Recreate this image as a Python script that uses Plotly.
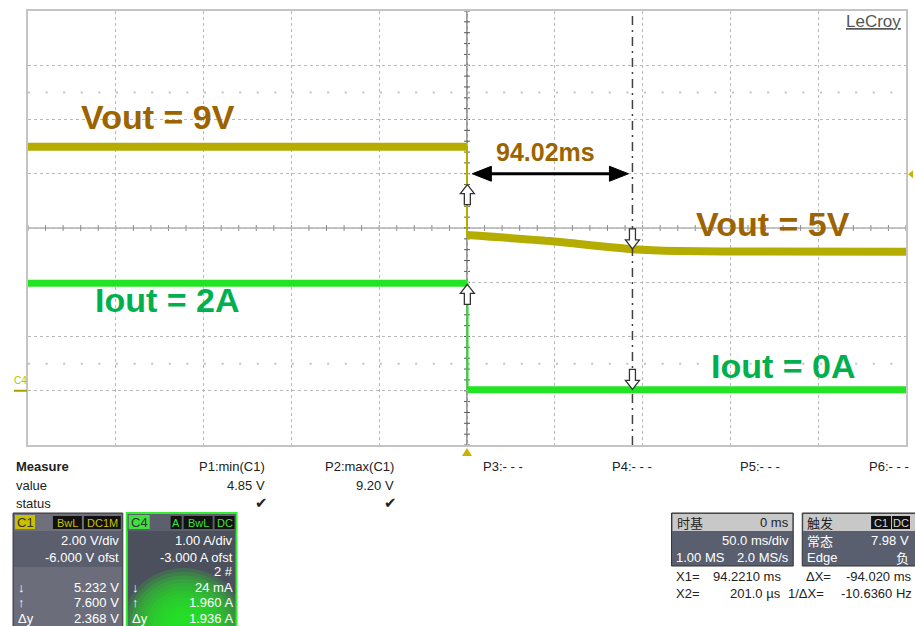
import plotly.graph_objects as go

# ---------------- waveform data ----------------
# time axis in ms (50 ms/div, trigger at 0)
t_pre = [-250, 0]
vout_pre = [9.0, 9.0]                       # C1, volts
t_post = [0, 47, 94.2, 120, 170, 250]
vout_post = [5.74, 5.52, 5.22, 5.15, 5.13, 5.12]

iout_pre = [1.98, 1.98]                     # C4, amps
t_iout_post = [0.3, 250]
iout_post = [0.02, 0.02]

# cursor positions (ms) and the levels read at them
cursor_x1 = 94.221
cursor_x2 = 0.201
c1_at_x1, c1_at_x2 = 5.232, 7.600
c4_at_x1, c4_at_x2 = 0.024, 1.960
trig_level = 7.98

# channel settings: volts/amps per div and offset
c1_div, c1_ofst = 2.0, -6.0
c4_div, c4_ofst = 1.0, -3.0

# measurement table
meas_heads = ["P1:min(C1)", "P2:max(C1)", "P3:- - -", "P4:- - -", "P5:- - -", "P6:- - -"]
meas_vals = ["4.85 V", "9.20 V", "", "", "", ""]
meas_ok = [True, True, False, False, False, False]

# ---------------- layout helpers ----------------
W, H = 915, 626
L, R, T, B = 28, 908, 11, 445


def px(x):
    return (x - L) / (R - L)


def py(y):
    return (B - y) / (B - T)


OLIVE = "#b4ad00"
GREEN = "#22e422"
BROWN = "#9c6400"
LBL_GREEN = "#00b04e"
FONT = "Liberation Sans, Arial, sans-serif"
CJK = "Noto Sans CJK SC, sans-serif"

c1_lo, c1_hi = -c1_ofst - 4 * c1_div, -c1_ofst + 4 * c1_div
c4_lo, c4_hi = -c4_ofst - 4 * c4_div, -c4_ofst + 4 * c4_div

fig = go.Figure()

# C1 (Vout)
fig.add_trace(go.Scatter(x=t_pre, y=vout_pre, mode="lines",
                         line=dict(color=OLIVE, width=8), yaxis="y"))
fig.add_trace(go.Scatter(x=[t_pre[-1], t_post[0]], y=[vout_pre[-1], vout_post[0]],
                         mode="lines", line=dict(color=OLIVE, width=2), yaxis="y"))
fig.add_trace(go.Scatter(x=t_post, y=vout_post, mode="lines",
                         line=dict(color=OLIVE, width=8, shape="spline", smoothing=0.6),
                         yaxis="y"))
# C4 (Iout)
fig.add_trace(go.Scatter(x=t_pre, y=iout_pre, mode="lines",
                         line=dict(color=GREEN, width=7), yaxis="y2"))
fig.add_trace(go.Scatter(x=[t_iout_post[0], t_iout_post[0]], y=[iout_pre[-1], iout_post[0]],
                         mode="lines", line=dict(color=GREEN, width=2), yaxis="y2"))
fig.add_trace(go.Scatter(x=t_iout_post, y=iout_post, mode="lines",
                         line=dict(color=GREEN, width=7), yaxis="y2"))

shapes = []
ann = []

# center cross of the graticule with minor ticks
shapes.append(dict(type="line", xref="x", yref="y", x0=-250, x1=250, y0=-c1_ofst, y1=-c1_ofst,
                   line=dict(color="#8a8a8a", width=1), layer="below"))
shapes.append(dict(type="line", xref="x", yref="y", x0=0, x1=0, y0=c1_lo, y1=c1_hi,
                   line=dict(color="#5a5a5a", width=1.2), layer="below"))
for k in range(-25, 26):
    shapes.append(dict(type="line", xref="x", yref="y", x0=k * 10, x1=k * 10,
                       ysizemode="pixel", yanchor=-c1_ofst, y0=-3, y1=3,
                       line=dict(color="#8a8a8a", width=1), layer="below"))
for k in range(0, 41):
    v = c1_lo + k * c1_div / 5
    shapes.append(dict(type="line", xref="x", yref="y", y0=v, y1=v,
                       xsizemode="pixel", xanchor=0, x0=-3, x1=3,
                       line=dict(color="#5a5a5a", width=1), layer="below"))
# faint dotted rows
for v in (11, 1):
    shapes.append(dict(type="line", xref="x", yref="y", x0=-250, x1=250, y0=v, y1=v,
                       line=dict(color="#c4c4c4", width=2, dash="2px,15.6px"), layer="below"))

# cursor X1
shapes.append(dict(type="line", xref="x", yref="y", x0=cursor_x1, x1=cursor_x1,
                   y0=c1_lo, y1=c1_hi, line=dict(color="#404040", width=1.5,
                                                   dash="9px,5px,2px,5px")))

# cursor hollow arrows
UP = "M0,0 L7,-9 L3,-9 L3,-20 L-3,-20 L-3,-9 L-7,-9 Z"
DOWN = "M0,0 L7,9 L3,9 L3,20 L-3,20 L-3,9 L-7,9 Z"
for (xc, yv, yr, p) in [(cursor_x2, c1_at_x2, "y", UP), (cursor_x2, c4_at_x2, "y2", UP),
                        (cursor_x1, c1_at_x1, "y", DOWN), (cursor_x1, c4_at_x1, "y2", DOWN)]:
    shapes.append(dict(type="path", xref="x", yref=yr, xsizemode="pixel", ysizemode="pixel",
                       xanchor=xc, yanchor=yv, path=p, fillcolor="white",
                       line=dict(color="#333333", width=1.3)))

# double arrow between the cursors
shapes.append(dict(type="line", xref="x", yref="y", x0=cursor_x2 + 10, x1=cursor_x1 - 10,
                   y0=8.0, y1=8.0, line=dict(color="black", width=3)))
shapes.append(dict(type="path", xref="x", yref="y", xsizemode="pixel", ysizemode="pixel",
                   xanchor=cursor_x2, yanchor=8.0, path="M5,0 L24,7.5 L24,-7.5 Z",
                   fillcolor="black", line=dict(color="black", width=1)))
shapes.append(dict(type="path", xref="x", yref="y", xsizemode="pixel", ysizemode="pixel",
                   xanchor=cursor_x1, yanchor=8.0, path="M-4,0 L-23,7.5 L-23,-7.5 Z",
                   fillcolor="black", line=dict(color="black", width=1)))

# trigger markers
shapes.append(dict(type="path", xref="x", yref="paper", xsizemode="pixel", ysizemode="pixel",
                   xanchor=0, yanchor=0, path="M0,-3 L5,-11 L-5,-11 Z",
                   fillcolor="#c8b400", line=dict(width=0)))
shapes.append(dict(type="path", xref="paper", yref="y", xsizemode="pixel", ysizemode="pixel",
                   xanchor=1, yanchor=trig_level, path="M2,0 L7,4 L7,-4 Z",
                   fillcolor="#c8b400", line=dict(width=0)))
# C4 ground marker
shapes.append(dict(type="path", xref="paper", yref="y2", xsizemode="pixel", ysizemode="pixel",
                   xanchor=0, yanchor=0, path="M-14,0 L-1,0", line=dict(color="#a8a000", width=2)))
ann.append(dict(x=px(20), y=0, xref="paper", yref="y2", yshift=10, text="C4", showarrow=False,
                xanchor="center", yanchor="middle",
                font=dict(size=10, color="#b0c400", family=FONT)))


def label(x, y, s, color, size=34):
    ann.append(dict(x=px(x), y=py(y), xref="paper", yref="paper", text=f"<b>{s}</b>",
                    showarrow=False, xanchor="center", yanchor="middle",
                    font=dict(size=size, color=color, family=FONT)))


# waveform labels
label(158, 117, "Vout = 9V", BROWN)
label(168, 300, "Iout = 2A", LBL_GREEN)
label(775, 224, "Vout = 5V", BROWN)
label(785, 366, "Iout = 0A", LBL_GREEN)
label(547, 152, "94.02ms", BROWN, size=25)
ann.append(dict(x=px(905), y=py(22), xref="paper", yref="paper", xanchor="right",
                yanchor="middle", text="<u>LeCroy</u>", showarrow=False,
                font=dict(color="#555555", size=17, family=FONT)))


def txt(x, y, s, size=13, color="#222222", anchor="left", family=FONT):
    ann.append(dict(x=px(x), y=py(y), xref="paper", yref="paper", text=s, showarrow=False,
                    xanchor=anchor, yanchor="middle", font=dict(size=size, color=color,
                                                                family=family)))


def rect(x0, y0, x1, y1, fill, line=None, lw=1):
    shapes.append(dict(type="rect", xref="paper", yref="paper", x0=px(x0), x1=px(x1),
                       y0=py(y1), y1=py(y0), fillcolor=fill,
                       line=dict(color=line or fill, width=lw if line else 0)))


def ellipse(cx, cy, rx, ry, fill, op):
    shapes.append(dict(type="circle", xref="paper", yref="paper", x0=px(cx - rx), x1=px(cx + rx),
                       y0=py(cy + ry), y1=py(cy - ry), fillcolor=fill, opacity=op,
                       line=dict(width=0)))


# measurement table
txt(14, 467, "<b>Measure</b>")
txt(14, 485, "value")
txt(14, 503, "status")
right_edges = [268, 397, 526, 655, 784, 913]
for head, val, ok, xr in zip(meas_heads, meas_vals, meas_ok, right_edges):
    txt(xr, 467, head, anchor="right")
    if val:
        txt(xr, 485, val, anchor="right")
    if ok:
        txt(xr - 6, 503, "✔", size=15, color="#222222", anchor="center",
            family="DejaVu Sans")

# C4 channel box with its green glow (drawn first, then trimmed to its frame)
rect(127, 513, 237, 630, "#4c505c")
for i in range(14):
    f = i / 13
    ellipse(184, 628, 62 - 50 * f, 60 - 48 * f, "#22ee22", 0.17)
rect(237.5, 560, 252, 630, "white")
rect(123.5, 560, 126.5, 630, "white")
shapes.append(dict(type="rect", xref="paper", yref="paper", x0=px(127), x1=px(237),
                   y0=py(630), y1=py(513), line=dict(color="#33ee33", width=2)))
rect(128, 514, 236, 531, "#5c606c")
rect(129, 515, 150, 529, "#3fe03f")
txt(139.5, 522, "C4", color="#333333", anchor="center")
rect(171, 516, 182, 529, "#111111")
txt(176.5, 522.5, "A", size=11, color="#3fe03f", anchor="center")
rect(184, 516, 213, 529, "#111111")
txt(198.5, 522.5, "BwL", size=11, color="#3fe03f", anchor="center")
rect(215, 516, 235, 529, "#111111")
txt(225, 522.5, "DC", size=11, color="#3fe03f", anchor="center")
txt(235, 540, "1.00 A/div", color="white", anchor="right")
txt(235, 557, "-3.000 A ofst", color="white", anchor="right")
txt(235, 571, "2 #", color="white", anchor="right")
txt(130, 587, "↓", color="white")
txt(130, 603, "↑", color="white")
txt(130, 618, "Δy", color="white")
txt(235, 587, f"{c4_at_x1 * 1000:.0f} mA", color="white", anchor="right")
txt(235, 603, f"{c4_at_x2:.3f} A", color="white", anchor="right")
txt(235, 618, f"{c4_at_x2 - c4_at_x1:.3f} A", color="white", anchor="right")

# C1 channel box
rect(13, 513, 123, 630, "#5a5e6d", "#3a3a3a", 1)
rect(14, 514, 122, 531, "#6e717c")
rect(14, 567, 122, 630, "#6b6e7a")
rect(15, 515, 35, 529, "#c8c000")
txt(25, 522, "C1", color="#333333", anchor="center")
rect(53, 516, 82, 529, "#111111")
txt(67.5, 522.5, "BwL", size=11, color="#c8c000", anchor="center")
rect(84, 516, 121, 529, "#111111")
txt(102.5, 522.5, "DC1M", size=11, color="#c8c000", anchor="center")
txt(121, 540, "2.00 V/div", color="white", anchor="right")
txt(121, 557, "-6.000 V ofst", color="white", anchor="right")
txt(16, 587, "↓", color="white")
txt(16, 603, "↑", color="white")
txt(16, 618, "Δy", color="white")
txt(121, 587, f"{c1_at_x1:.3f} V", color="white", anchor="right")
txt(121, 603, f"{c1_at_x2:.3f} V", color="white", anchor="right")
txt(121, 618, f"{c1_at_x2 - c1_at_x1:.3f} V", color="white", anchor="right")

# timebase box
rect(673, 513, 795, 566, "#5a5f6f", "#333333", 1)
rect(674, 514, 794, 531, "#c8c8c8")
txt(676, 522, "时基", color="#222222", family=CJK)
txt(793, 522, "0 ms", color="#222222", anchor="right")
txt(793, 540, "50.0 ms/div", color="white", anchor="right")
txt(675, 557, "1.00 MS", color="white")
txt(793, 557, "2.0 MS/s", color="white", anchor="right")

# trigger box
rect(804, 513, 918, 566, "#5a5f6f", "#333333", 1)
rect(805, 514, 917, 531, "#c8c8c8")
txt(807, 522, "触发", color="#222222", family=CJK)
rect(873, 516, 893, 529, "#111111")
txt(883, 522.5, "C1", size=11, color="#d8d8d8", anchor="center")
rect(894, 516, 912, 529, "#111111")
txt(903, 522.5, "DC", size=11, color="#d8d8d8", anchor="center")
txt(807, 540, "常态", color="white", family=CJK)
txt(913, 540, f"{trig_level:.2f} V", color="white", anchor="right")
txt(807, 557, "Edge", color="white")
txt(913, 557, "负", color="white", anchor="right", family=CJK)

# cursor readouts
dx = cursor_x2 - cursor_x1
txt(675, 576, "X1=")
txt(785, 576, f"{cursor_x1:.4f} ms", anchor="right")
txt(675, 593, "X2=")
txt(785, 593, f"{cursor_x2 * 1000:.1f} µs", anchor="right")
txt(806, 576, "ΔX=")
txt(916, 576, f"{dx:.3f} ms", anchor="right")
txt(788, 593, "1/ΔX=")
txt(916, 593, f"{1000 / dx:.4f} Hz", anchor="right")

fig.update_layout(
    width=W, height=H, autosize=False,
    margin=dict(l=L, r=W - R, t=T, b=H - B, pad=0),
    paper_bgcolor="white", plot_bgcolor="white",
    showlegend=False,
    xaxis=dict(range=[-250, 250], dtick=50, tick0=-250, showticklabels=False, ticks="",
               showgrid=True, gridcolor="#b8b8b8", griddash="dot", gridwidth=1,
               zeroline=False, showline=True, mirror=True, linecolor="#c4c4c4", linewidth=2),
    yaxis=dict(range=[c1_lo, c1_hi], dtick=c1_div, tick0=c1_lo, showticklabels=False, ticks="",
               showgrid=True, gridcolor="#b8b8b8", griddash="dot", gridwidth=1,
               zeroline=False, showline=True, mirror=True, linecolor="#c4c4c4", linewidth=2),
    yaxis2=dict(range=[c4_lo, c4_hi], overlaying="y", showgrid=False, zeroline=False,
                showticklabels=False, ticks="", showline=False),
    shapes=shapes,
    annotations=ann,
)

fig.write_html("out.html")
